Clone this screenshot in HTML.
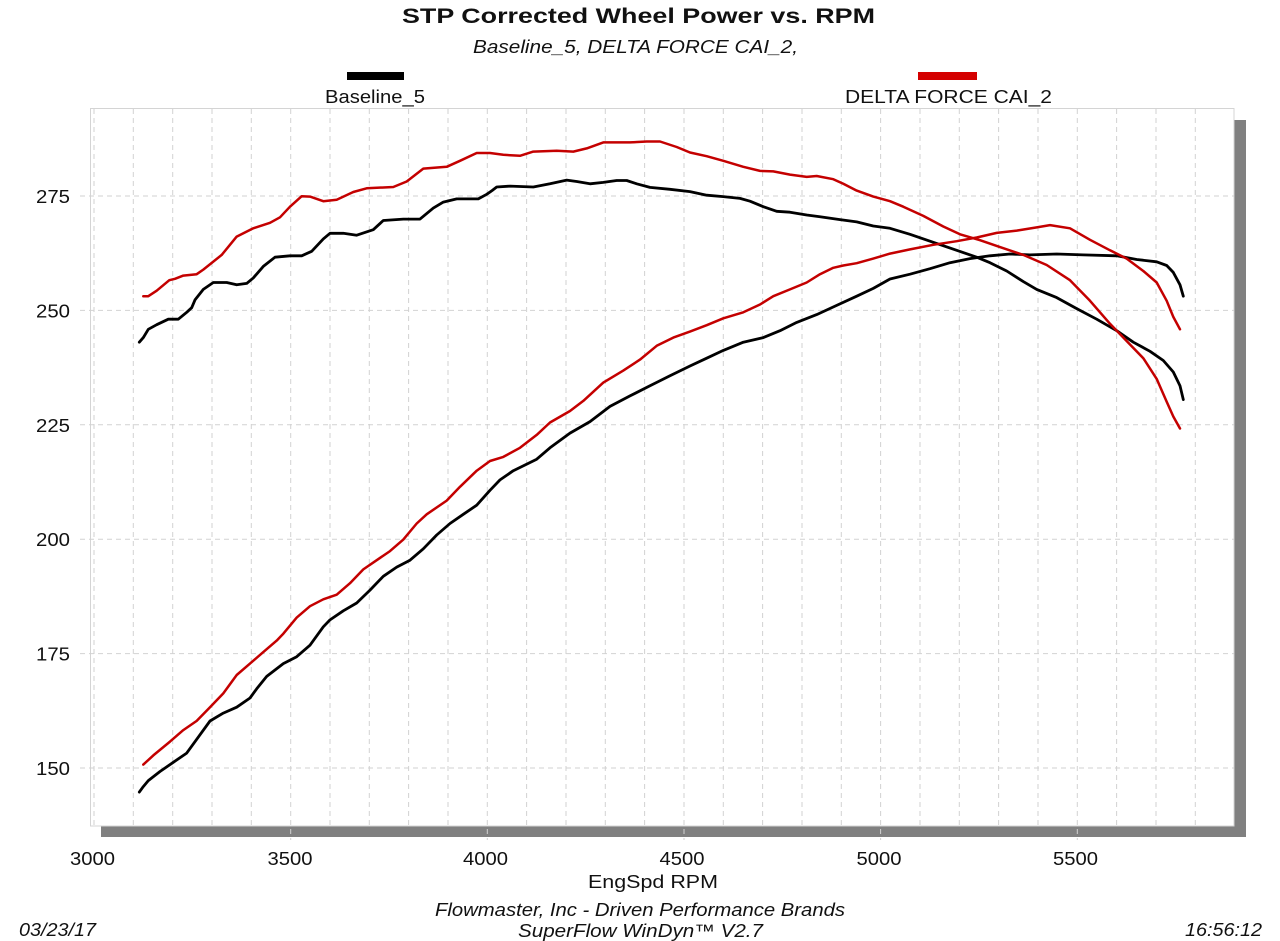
<!DOCTYPE html>
<html>
<head>
<meta charset="utf-8">
<style>
html,body{margin:0;padding:0;background:#fff;}
svg{display:block;}
text{font-family:"Liberation Sans",Arial,sans-serif;fill:#111;}
</style>
</head>
<body>
<svg width="1280" height="941" viewBox="0 0 1280 941" xmlns="http://www.w3.org/2000/svg">
<rect x="0" y="0" width="1280" height="941" fill="#fff"/>

<!-- Title -->
<text x="402" y="23" font-size="21.5" font-weight="bold" textLength="473" lengthAdjust="spacingAndGlyphs">STP Corrected Wheel Power vs. RPM</text>
<text x="473" y="53" font-size="18" font-style="italic" textLength="325" lengthAdjust="spacingAndGlyphs">Baseline_5, DELTA FORCE CAI_2,</text>

<!-- Legend -->
<rect x="347" y="72" width="57" height="8" fill="#000"/>
<text x="325" y="103" font-size="18" textLength="100" lengthAdjust="spacingAndGlyphs">Baseline_5</text>
<rect x="918" y="72" width="59" height="8" fill="#d40000"/>
<text x="845" y="103" font-size="18" textLength="207" lengthAdjust="spacingAndGlyphs">DELTA FORCE CAI_2</text>

<!-- Shadow -->
<rect x="1234" y="120" width="12" height="717" fill="#808080"/>
<rect x="101" y="826" width="1145" height="11" fill="#808080"/>

<!-- Plot area -->
<rect x="90.5" y="108.5" width="1143.5" height="717.5" fill="#fff" stroke="#d4d4d4" stroke-width="1"/>

<!-- Grid -->
<g stroke="#d2d2d2" stroke-width="1" stroke-dasharray="5,4" fill="none">
<line x1="94" y1="109" x2="94" y2="826"/>
<line x1="133.3" y1="109" x2="133.3" y2="826"/>
<line x1="172.7" y1="109" x2="172.7" y2="826"/>
<line x1="212" y1="109" x2="212" y2="826"/>
<line x1="251.3" y1="109" x2="251.3" y2="826"/>
<line x1="290.7" y1="109" x2="290.7" y2="840"/>
<line x1="330" y1="109" x2="330" y2="826"/>
<line x1="369.3" y1="109" x2="369.3" y2="826"/>
<line x1="408.6" y1="109" x2="408.6" y2="826"/>
<line x1="448" y1="109" x2="448" y2="826"/>
<line x1="487.3" y1="109" x2="487.3" y2="840"/>
<line x1="526.6" y1="109" x2="526.6" y2="826"/>
<line x1="566" y1="109" x2="566" y2="826"/>
<line x1="605.3" y1="109" x2="605.3" y2="826"/>
<line x1="644.6" y1="109" x2="644.6" y2="826"/>
<line x1="684" y1="109" x2="684" y2="840"/>
<line x1="723.3" y1="109" x2="723.3" y2="826"/>
<line x1="762.6" y1="109" x2="762.6" y2="826"/>
<line x1="802" y1="109" x2="802" y2="826"/>
<line x1="841.3" y1="109" x2="841.3" y2="826"/>
<line x1="880.6" y1="109" x2="880.6" y2="840"/>
<line x1="920" y1="109" x2="920" y2="826"/>
<line x1="959.3" y1="109" x2="959.3" y2="826"/>
<line x1="998.6" y1="109" x2="998.6" y2="826"/>
<line x1="1038" y1="109" x2="1038" y2="826"/>
<line x1="1077.3" y1="109" x2="1077.3" y2="840"/>
<line x1="1116.6" y1="109" x2="1116.6" y2="826"/>
<line x1="1156" y1="109" x2="1156" y2="826"/>
<line x1="1195.3" y1="109" x2="1195.3" y2="826"/>
<line x1="80" y1="196" x2="1234" y2="196"/>
<line x1="80" y1="310.4" x2="1234" y2="310.4"/>
<line x1="80" y1="424.8" x2="1234" y2="424.8"/>
<line x1="80" y1="539.2" x2="1234" y2="539.2"/>
<line x1="80" y1="653.6" x2="1234" y2="653.6"/>
<line x1="80" y1="768" x2="1234" y2="768"/>
</g>

<!-- Y labels -->
<g font-size="18.5" text-anchor="end">
<text x="70" y="203" textLength="34" lengthAdjust="spacingAndGlyphs">275</text>
<text x="70" y="317.4" textLength="34" lengthAdjust="spacingAndGlyphs">250</text>
<text x="70" y="431.8" textLength="34" lengthAdjust="spacingAndGlyphs">225</text>
<text x="70" y="546.2" textLength="34" lengthAdjust="spacingAndGlyphs">200</text>
<text x="70" y="660.6" textLength="34" lengthAdjust="spacingAndGlyphs">175</text>
<text x="70" y="775" textLength="34" lengthAdjust="spacingAndGlyphs">150</text>
</g>

<!-- X labels -->
<g font-size="18.5">
<text x="70" y="865" textLength="45" lengthAdjust="spacingAndGlyphs">3000</text>
<text x="267.5" y="865" textLength="45" lengthAdjust="spacingAndGlyphs">3500</text>
<text x="463" y="865" textLength="45" lengthAdjust="spacingAndGlyphs">4000</text>
<text x="659.5" y="865" textLength="45" lengthAdjust="spacingAndGlyphs">4500</text>
<text x="856.5" y="865" textLength="45" lengthAdjust="spacingAndGlyphs">5000</text>
<text x="1053" y="865" textLength="45" lengthAdjust="spacingAndGlyphs">5500</text>
</g>
<text x="588" y="888" font-size="18" textLength="130" lengthAdjust="spacingAndGlyphs">EngSpd  RPM</text>

<!-- Footer -->
<text x="435" y="916" font-size="18" font-style="italic" textLength="410" lengthAdjust="spacingAndGlyphs">Flowmaster, Inc - Driven Performance Brands</text>
<text x="518" y="937" font-size="18" font-style="italic" textLength="245" lengthAdjust="spacingAndGlyphs">SuperFlow  WinDyn™ V2.7</text>
<text x="19" y="936" font-size="18" font-style="italic" textLength="77" lengthAdjust="spacingAndGlyphs">03/23/17</text>
<text x="1185" y="936" font-size="18" font-style="italic" textLength="77" lengthAdjust="spacingAndGlyphs">16:56:12</text>

<!-- Series -->
<g fill="none" stroke-linejoin="round" stroke-linecap="round">
<!-- Black torque -->
<polyline stroke="#000" stroke-width="2.8" points="139.3,342.2 143.3,337.6 148.3,329.3 156.7,324.7 168.3,319.2 178.3,319.2 186.7,312.3 191.7,307.7 195,299.9 203.3,289.4 213.3,282.5 226.7,282.5 236.7,284.8 246.7,283.4 253.3,277.9 263.3,266.4 275,257.2 290,255.8 301.7,255.8 311.7,251.3 323.3,238.9 330,233.3 343.3,233.3 356.7,235.2 373.3,229.7 383.3,220.5 403.3,219.1 420,219.1 433.3,208.1 443.3,202.1 456.7,198.9 478.3,198.9 486.7,194.3 492,190.6 496.7,187.0 510,186.1 533.3,187.0 550,183.8 566.7,180.1 576.7,181.5 590,183.8 603.3,182.4 616.7,180.5 626.7,180.5 636.7,183.8 650,187.4 670,189.3 690,191.6 706.7,195.2 723.3,196.6 740,198.4 750,201.2 763.3,206.7 776.7,211.3 790,212.2 806.7,215.0 820,216.8 840,219.6 856.7,221.9 873.3,226.0 890,228.3 910,234.3 930,241.2 956.7,250.3 976.7,257.2 990,262.7 1006.7,271.0 1023.3,281.6 1036.7,289.4 1056.7,297.6 1076.7,308.6 1096.7,319.2 1116.7,330.7 1133.3,342.2 1150,351.3 1163.3,360.5 1173.3,372.0 1180,385.8 1183.3,399.6"/>
<!-- Black HP -->
<polyline stroke="#000" stroke-width="2.8" points="139.3,792.1 143.3,786.6 148.3,780.6 160,771.5 173.3,762.3 186.7,753.1 196.7,739.3 210,721.0 223.3,713.1 236.7,707.2 250,698.0 256.7,688.8 266.7,676.4 283.3,663.6 296.7,656.7 310,645.2 323.3,626.8 330,619.9 343.3,610.8 356.7,603.0 370,590.1 383.3,576.3 396.7,567.1 410,560.2 423.3,548.8 436.7,535.0 450,523.5 463.3,514.3 476.7,505.2 490,490.3 500,479.9 513.3,470.7 536.7,459.2 550,447.8 570,433.1 590,421.6 610,406.4 630,395.9 650,385.8 670,375.7 690,366.0 706.7,358.2 723.3,350.4 743.3,342.2 763.3,337.6 780,330.7 796.7,322.4 816.7,314.6 836.7,305.4 856.7,296.2 873.3,288.4 890,279 910,274.2 930,268.7 950,262.7 970,258.6 990,255.8 1010,254.0 1030,254.9 1056.7,254.0 1083.3,254.9 1116.7,255.8 1136.7,259.5 1156.7,261.8 1166.7,265.5 1173.3,272.4 1180,284.8 1183.3,296.2"/>
<!-- Red torque -->
<polyline stroke="#c40000" stroke-width="2.5" points="143.3,296.2 148.3,296.2 156.7,290.7 169.3,280.2 175,278.8 183.3,275.6 196.7,274.2 203.3,269.6 221.7,254.9 236.7,236.6 253.3,228.3 270,222.8 280,217.3 290,206.7 301.7,196.2 310,196.6 323.3,201.2 336.7,199.8 353.3,192.0 366.7,188.3 393.3,187.0 406.7,181.5 423.3,168.6 446.7,166.8 460,160.8 476.7,153.0 490,153.0 503.3,154.8 520,155.8 533.3,151.6 556.7,150.7 573.3,151.6 586.7,148.4 603.3,142.4 630,142.4 646.7,141.5 660,141.5 676.7,147.0 690,152.5 706.7,156.2 723.3,160.8 743.3,166.8 760,170.9 773.3,171.4 790,174.6 806.7,176.9 816.7,176.0 833.3,179.2 843.3,183.8 856.7,190.6 873.3,196.6 890,201.2 903.3,206.7 923.3,215.9 943.3,226.5 960,234.3 980,240.2 1000,247.1 1023.3,254.9 1046.7,265.0 1070,280.2 1090,300.8 1110,323.8 1130,344.5 1143.3,358.2 1156.7,378.9 1166.7,401.8 1173.3,416.5 1180,428.5"/>
<!-- Red HP -->
<polyline stroke="#c40000" stroke-width="2.5" points="143.3,764.6 153.3,755.4 170,741.6 183.3,730.1 196.7,720.9 210,707.2 223.3,693.4 236.7,675.0 250,663.6 263.3,652.1 276.7,640.6 283.3,633.7 296.7,617.6 310,606.2 323.3,599.3 336.7,594.7 350,583.2 363.3,569.4 376.7,560.2 390,551.1 403.3,539.6 416.7,523.5 426.7,514.3 446.7,500.6 460,486.8 476.7,470.7 490,461 503.3,456.9 520,447.8 536.7,434.9 550,422.5 570,411.0 583.3,400.9 603.3,382.6 623.3,370.6 640,359.6 656.7,345.8 673.3,337.6 690,331.6 706.7,325.2 723.3,318.3 743.3,312.3 760,304.5 773.3,296.2 790,289.4 806.7,282.5 820,274.2 833.3,267.8 843.3,265.5 856.7,263.2 873.3,258.6 890,253.6 910,249.4 933.3,244.8 956.7,241.2 976.7,237.5 996.7,232.9 1016.7,230.6 1036.7,227.4 1050,225.1 1070,228.3 1090,239.8 1110,250.3 1126.7,258.6 1143.3,271.0 1156.7,282.5 1166.7,300.8 1173.3,316.9 1180,329.3"/>
</g>
</svg>
</body>
</html>
